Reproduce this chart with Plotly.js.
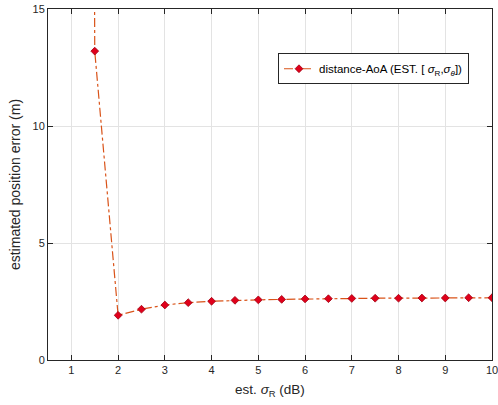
<!DOCTYPE html>
<html><head><meta charset="utf-8">
<script src="https://cdn.plot.ly/plotly-3.0.1.min.js"></script>
<style>body{margin:0;padding:0;background:#fff}</style>
</head><body>
<div id="chart" style="width:498px;height:405px"></div>
<script>
const sigmaR = [1, 1.5, 2, 2.5, 3, 3.5, 4, 4.5, 5, 5.5, 6, 6.5, 7, 7.5, 8, 8.5, 9, 9.5, 10];
const posError = [300, 13.2, 1.91, 2.17, 2.35, 2.45, 2.51, 2.55, 2.57, 2.59, 2.61, 2.62, 2.63, 2.64, 2.64, 2.65, 2.65, 2.66, 2.66];
const seriesName = 'distance-AoA (EST. [ <i>σ</i><sub>R</sub>,<i>σ</i><sub><i>θ</i></sub>])';
const xTicks = [1,2,3,4,5,6,7,8,9,10];
const yTicks = [0,5,10,15];

const axisCommon = {
  showline: true, mirror: 'ticks', linecolor: '#262626', linewidth: 1,
  ticks: 'inside', ticklen: 5, tickcolor: '#262626',
  showgrid: true, gridcolor: '#e3e3e3', gridwidth: 1, zeroline: false,
  ticklabeloverflow: 'allow',
  tickfont: {family: 'Liberation Sans, Arial, sans-serif', size: 11, color: '#262626'}
};

Plotly.newPlot('chart', [{
  x: sigmaR, y: posError, name: seriesName, type: 'scatter', mode: 'lines+markers',
  line: {color: '#D95319', width: 1.2, dash: 'dashdot'},
  marker: {symbol: 'diamond', size: 6, color: '#E0001B', line: {color: '#A00010', width: 0.8}},
  showlegend: true
}], {
  width: 498, height: 405,
  margin: {l: 48, r: 6, t: 9, b: 45},
  paper_bgcolor: '#fff', plot_bgcolor: '#fff',
  font: {family: 'Liberation Sans, Arial, sans-serif', size: 11, color: '#262626'},
  xaxis: Object.assign({}, axisCommon, {
    range: [0.5, 10], tickvals: xTicks, ticktext: xTicks.map(String), automargin: false,
    title: {text: 'est. <i>σ</i><sub>R</sub> (dB)', font: {size: 13.5, color: '#262626'}, standoff: 9}
  }),
  yaxis: Object.assign({}, axisCommon, {
    range: [0, 15], tickvals: yTicks, ticktext: yTicks.map(String), automargin: false,
    title: {text: 'estimated position error (m)', font: {size: 14, color: '#262626'}, standoff: 8}
  }),
  legend: {
    x: 0.518, y: 0.874, xanchor: 'left', yanchor: 'top',
    bordercolor: '#262626', borderwidth: 1, bgcolor: '#fff',
    font: {size: 11.5, color: '#000'}, tracegroupgap: 0, itemwidth: 30
  }
}, {displayModeBar: false, staticPlot: true});
</script>
</body></html>
